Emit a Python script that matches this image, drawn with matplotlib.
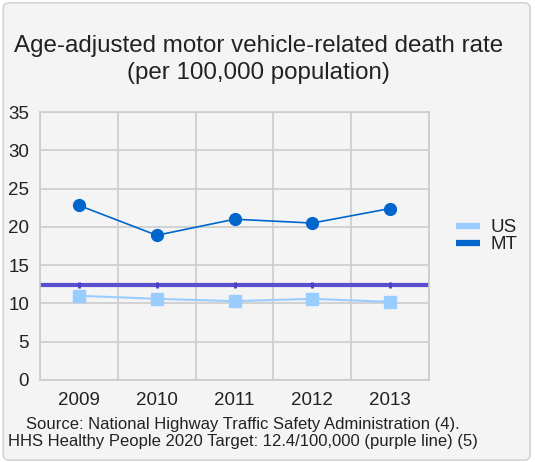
import matplotlib.pyplot as plt
import numpy as np
from matplotlib.lines import Line2D
from matplotlib.patches import FancyBboxPatch

plt.rcParams['font.family'] = ['Liberation Sans', 'DejaVu Sans']

years = ['2009', '2010', '2011', '2012', '2013']
us_rate = [11.0, 10.6, 10.3, 10.6, 10.2]
mt_rate = [22.8, 18.9, 21.0, 20.5, 22.4]
target = 12.4

bg = '#f4f4f4'
fig = plt.figure(figsize=(5.35, 4.62), dpi=100, facecolor='white')
card = FancyBboxPatch((0.006, 0.004), 0.985, 0.99, boxstyle='round,pad=0,rounding_size=0.012',
                      transform=fig.transFigure, fc=bg, ec='#d4d4d4', lw=1.2, zorder=-1)
fig.patches.append(card)
ax = fig.add_axes([0.075, 0.1775, 0.727, 0.58])
ax.set_facecolor(bg)

x = np.arange(len(years))
ax.axhline(target, color='#5a4fcf', lw=3, zorder=2)
ax.plot(x, [target] * len(x), ls='none', color='#4a3fbf', zorder=2,
        marker='|', ms=4, mew=2)
ax.plot(x, us_rate, color='#99ccff', lw=1.5, marker='s', ms=8, zorder=3)
ax.plot(x, mt_rate, color='#0066cc', lw=1.2, marker='o', ms=8.5, zorder=4)

ax.set_xlim(-0.5, len(years) - 0.5)
ax.set_ylim(0, 35)
ax.set_yticks(range(0, 36, 5))
ax.set_xticks(x)
ax.set_xticklabels(years)
ax.set_xticks(np.arange(-0.5, len(years)), minor=True)
ax.grid(True, which='minor', axis='x', color='#cccccc', lw=1.2)
ax.grid(True, which='major', axis='y', color='#cccccc', lw=1.2)
ax.set_axisbelow(True)
ax.tick_params(which='both', length=0, labelsize=13.5, colors='#222222')
ax.tick_params(axis='y', pad=8)
ax.tick_params(axis='x', pad=9)
for s in ax.spines.values():
    s.set_color('#cccccc')
    s.set_linewidth(1.2)

fig.text(0.483, 0.871, 'Age-adjusted motor vehicle-related death rate\n(per 100,000 population)',
         ha='center', va='center', fontsize=17.4, color='#222222', linespacing=1.3)

handles = [Line2D([], [], color='#99ccff', lw=4.5, solid_capstyle='butt'),
           Line2D([], [], color='#0066cc', lw=4.5, solid_capstyle='butt')]
fig.legend(handles, ['US', 'MT'], loc='center left', bbox_to_anchor=(0.82, 0.489),
           frameon=False, fontsize=13.5, handlelength=1.3, handletextpad=0.55,
           labelspacing=0.0, labelcolor='#222222')

fig.text(0.454, 0.063, 'Source: National Highway Traffic Safety Administration (4).\n'
         'HHS Healthy People 2020 Target: 12.4/100,000 (purple line) (5)',
         ha='center', va='center', fontsize=12, color='#222222', linespacing=1.2)

fig.savefig('out.png', dpi=100, facecolor='white')
